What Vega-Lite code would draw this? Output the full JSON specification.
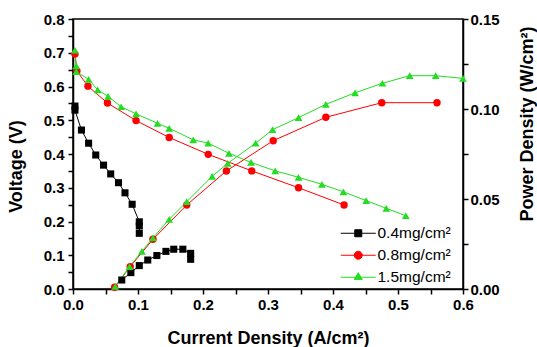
{
 "$schema": "https://vega.github.io/schema/vega-lite/v6.json",
 "width": 390, "height": 270,
 "autosize": {"type": "none"},
 "padding": {"left": 73, "top": 19, "right": 74, "bottom": 58},
 "background": "white",
 "config": {
  "view": {"stroke": "#000", "strokeWidth": 1.5},
  "axis": {"grid": false, "domainColor": "#000", "domainWidth": 1.5, "tickColor": "#000", "tickWidth": 1.5,
   "labelFont": "Liberation Sans", "labelFontWeight": "bold", "labelFontSize": 15, "labelColor": "#000",
   "titleFont": "Liberation Sans", "titleFontWeight": "bold", "titleFontSize": 18, "titleColor": "#000",
   "labelOverlap": false, "labelFlush": false},
  "legend": {"symbolFillColor": "#888888", "symbolStrokeColor": "#888888"}
 },
 "data": {"values": [
  {"series":"0.4mg/cm²","kind":"V","current":0.003,"val":0.542},
  {"series":"0.4mg/cm²","kind":"V","current":0.003,"val":0.530},
  {"series":"0.4mg/cm²","kind":"V","current":0.013,"val":0.471},
  {"series":"0.4mg/cm²","kind":"V","current":0.024,"val":0.432},
  {"series":"0.4mg/cm²","kind":"V","current":0.035,"val":0.397},
  {"series":"0.4mg/cm²","kind":"V","current":0.047,"val":0.367},
  {"series":"0.4mg/cm²","kind":"V","current":0.058,"val":0.341},
  {"series":"0.4mg/cm²","kind":"V","current":0.070,"val":0.315},
  {"series":"0.4mg/cm²","kind":"V","current":0.080,"val":0.285},
  {"series":"0.4mg/cm²","kind":"V","current":0.091,"val":0.251},
  {"series":"0.4mg/cm²","kind":"V","current":0.102,"val":0.199},
  {"series":"0.4mg/cm²","kind":"V","current":0.102,"val":0.187},
  {"series":"0.4mg/cm²","kind":"V","current":0.102,"val":0.165},
  {"series":"0.4mg/cm²","kind":"P","current":0.075,"val":0.0050},
  {"series":"0.4mg/cm²","kind":"P","current":0.089,"val":0.0091},
  {"series":"0.4mg/cm²","kind":"P","current":0.102,"val":0.0130},
  {"series":"0.4mg/cm²","kind":"P","current":0.115,"val":0.0161},
  {"series":"0.4mg/cm²","kind":"P","current":0.129,"val":0.0186},
  {"series":"0.4mg/cm²","kind":"P","current":0.143,"val":0.0209},
  {"series":"0.4mg/cm²","kind":"P","current":0.155,"val":0.0221},
  {"series":"0.4mg/cm²","kind":"P","current":0.169,"val":0.0221},
  {"series":"0.4mg/cm²","kind":"P","current":0.181,"val":0.0198},
  {"series":"0.4mg/cm²","kind":"P","current":0.181,"val":0.0165},
  {"series":"0.8mg/cm²","kind":"V","current":0.003,"val":0.696},
  {"series":"0.8mg/cm²","kind":"V","current":0.006,"val":0.646},
  {"series":"0.8mg/cm²","kind":"V","current":0.023,"val":0.601},
  {"series":"0.8mg/cm²","kind":"V","current":0.053,"val":0.551},
  {"series":"0.8mg/cm²","kind":"V","current":0.097,"val":0.499},
  {"series":"0.8mg/cm²","kind":"V","current":0.148,"val":0.449},
  {"series":"0.8mg/cm²","kind":"V","current":0.208,"val":0.399},
  {"series":"0.8mg/cm²","kind":"V","current":0.275,"val":0.350},
  {"series":"0.8mg/cm²","kind":"V","current":0.347,"val":0.300},
  {"series":"0.8mg/cm²","kind":"V","current":0.417,"val":0.249},
  {"series":"0.8mg/cm²","kind":"P","current":0.064,"val":0.0010},
  {"series":"0.8mg/cm²","kind":"P","current":0.088,"val":0.0124},
  {"series":"0.8mg/cm²","kind":"P","current":0.123,"val":0.0276},
  {"series":"0.8mg/cm²","kind":"P","current":0.175,"val":0.0467},
  {"series":"0.8mg/cm²","kind":"P","current":0.236,"val":0.0656},
  {"series":"0.8mg/cm²","kind":"P","current":0.308,"val":0.0824},
  {"series":"0.8mg/cm²","kind":"P","current":0.389,"val":0.0954},
  {"series":"0.8mg/cm²","kind":"P","current":0.475,"val":0.1035},
  {"series":"0.8mg/cm²","kind":"P","current":0.560,"val":0.1035},
  {"series":"1.5mg/cm²","kind":"V","current":0.003,"val":0.708},
  {"series":"1.5mg/cm²","kind":"V","current":0.005,"val":0.661},
  {"series":"1.5mg/cm²","kind":"V","current":0.005,"val":0.644},
  {"series":"1.5mg/cm²","kind":"V","current":0.024,"val":0.621},
  {"series":"1.5mg/cm²","kind":"V","current":0.038,"val":0.590},
  {"series":"1.5mg/cm²","kind":"V","current":0.054,"val":0.571},
  {"series":"1.5mg/cm²","kind":"V","current":0.074,"val":0.540},
  {"series":"1.5mg/cm²","kind":"V","current":0.097,"val":0.519},
  {"series":"1.5mg/cm²","kind":"V","current":0.130,"val":0.491},
  {"series":"1.5mg/cm²","kind":"V","current":0.148,"val":0.476},
  {"series":"1.5mg/cm²","kind":"V","current":0.185,"val":0.442},
  {"series":"1.5mg/cm²","kind":"V","current":0.208,"val":0.432},
  {"series":"1.5mg/cm²","kind":"V","current":0.240,"val":0.402},
  {"series":"1.5mg/cm²","kind":"V","current":0.274,"val":0.375},
  {"series":"1.5mg/cm²","kind":"V","current":0.311,"val":0.350},
  {"series":"1.5mg/cm²","kind":"V","current":0.347,"val":0.331},
  {"series":"1.5mg/cm²","kind":"V","current":0.383,"val":0.310},
  {"series":"1.5mg/cm²","kind":"V","current":0.416,"val":0.288},
  {"series":"1.5mg/cm²","kind":"V","current":0.451,"val":0.262},
  {"series":"1.5mg/cm²","kind":"V","current":0.482,"val":0.239},
  {"series":"1.5mg/cm²","kind":"V","current":0.512,"val":0.217},
  {"series":"1.5mg/cm²","kind":"P","current":0.065,"val":0.0015},
  {"series":"1.5mg/cm²","kind":"P","current":0.087,"val":0.0124},
  {"series":"1.5mg/cm²","kind":"P","current":0.106,"val":0.0209},
  {"series":"1.5mg/cm²","kind":"P","current":0.123,"val":0.0284},
  {"series":"1.5mg/cm²","kind":"P","current":0.148,"val":0.0387},
  {"series":"1.5mg/cm²","kind":"P","current":0.175,"val":0.0485},
  {"series":"1.5mg/cm²","kind":"P","current":0.214,"val":0.0626},
  {"series":"1.5mg/cm²","kind":"P","current":0.238,"val":0.0698},
  {"series":"1.5mg/cm²","kind":"P","current":0.281,"val":0.0810},
  {"series":"1.5mg/cm²","kind":"P","current":0.307,"val":0.0885},
  {"series":"1.5mg/cm²","kind":"P","current":0.347,"val":0.0952},
  {"series":"1.5mg/cm²","kind":"P","current":0.389,"val":0.1026},
  {"series":"1.5mg/cm²","kind":"P","current":0.434,"val":0.1090},
  {"series":"1.5mg/cm²","kind":"P","current":0.476,"val":0.1143},
  {"series":"1.5mg/cm²","kind":"P","current":0.518,"val":0.1185},
  {"series":"1.5mg/cm²","kind":"P","current":0.558,"val":0.1185},
  {"series":"1.5mg/cm²","kind":"P","current":0.600,"val":0.1170}
 ]},
 "encoding": {
  "x": {"field": "current", "type": "quantitative",
   "scale": {"domain": [0, 0.6], "nice": false},
   "axis": {"title": "Current Density (A/cm²)",
    "values": [0,0.05,0.1,0.15,0.2,0.25,0.3,0.35,0.4,0.45,0.5,0.55,0.6],
    "labelExpr": "round(datum.value*20)%2==0 ? format(datum.value,'.1f') : ''",
    "tickSize": 5, "labelPadding": 3, "titleY": 54, "titleBaseline": "alphabetic",
    "encode": {"ticks": {"y2": {"value": {"expr": "round(datum.value*20)%2==0 ? 5 : 3"}}}}}}
 },
 "layer": [
  {"transform": [{"filter": "datum.kind == 'V'"}],
   "encoding": {
    "color": {"field": "series", "type": "nominal",
     "scale": {"domain": ["0.4mg/cm²","0.8mg/cm²","1.5mg/cm²"], "range": ["#000000","#ff0000","#22dd22"]}, "legend": null},
    "y": {"field": "val", "type": "quantitative",
    "scale": {"domain": [0, 0.8], "nice": false},
    "axis": {"title": "Voltage (V)", "orient": "left",
     "values": [0,0.05,0.1,0.15,0.2,0.25,0.3,0.35,0.4,0.45,0.5,0.55,0.6,0.65,0.7,0.75,0.8],
     "labelExpr": "round(datum.value*20)%2==0 ? format(datum.value,'.1f') : ''",
     "tickSize": 5, "labelPadding": 4,
     "titleAngle": -90, "titleX": -57, "titleY": 147, "titleAlign": "center", "titleBaseline": "middle",
     "encode": {"ticks": {"x2": {"value": {"expr": "round(datum.value*20)%2==0 ? -5 : -3"}}}}}}},
   "layer": [
    {"mark": {"type": "line", "strokeWidth": 1}, "encoding": {"order": {"value": null}}},
    {"mark": {"type": "point", "filled": true, "opacity": 1},
     "encoding": {
      "shape": {"field": "series", "type": "nominal", "scale": {"domain": ["0.4mg/cm²","0.8mg/cm²","1.5mg/cm²"], "range": ["square","circle","triangle-up"]}, "legend": null},
      "size": {"field": "series", "type": "nominal", "scale": {"domain": ["0.4mg/cm²","0.8mg/cm²","1.5mg/cm²"], "range": [50, 60, 64]}, "legend": null}}}
   ]},
  {"transform": [{"filter": "datum.kind == 'P'"}],
   "encoding": {
    "color": {"field": "series", "type": "nominal",
     "scale": {"domain": ["0.4mg/cm²","0.8mg/cm²","1.5mg/cm²"], "range": ["#000000","#ff0000","#22dd22"]}, "legend": null},
    "y": {"field": "val", "type": "quantitative",
    "scale": {"domain": [0, 0.15], "nice": false},
    "axis": {"title": "Power Density (W/cm²)", "orient": "right",
     "values": [0,0.025,0.05,0.075,0.1,0.125,0.15],
     "labelExpr": "round(datum.value*40)%2==0 ? format(datum.value,'.2f') : ''",
     "tickSize": 5, "labelPadding": 2,
     "titleAngle": -90, "titleX": 64, "titleY": 104.5, "titleAlign": "center", "titleBaseline": "middle",
     "encode": {"ticks": {"x2": {"value": {"expr": "round(datum.value*40)%2==0 ? 5 : 3"}}}}}}},
   "layer": [
    {"mark": {"type": "line", "strokeWidth": 1}, "encoding": {"order": {"value": null}}},
    {"mark": {"type": "point", "filled": true, "opacity": 1},
     "encoding": {
      "shape": {"field": "series", "type": "nominal", "scale": {"domain": ["0.4mg/cm²","0.8mg/cm²","1.5mg/cm²"], "range": ["square","circle","triangle-up"]}, "legend": null},
      "size": {"field": "series", "type": "nominal", "scale": {"domain": ["0.4mg/cm²","0.8mg/cm²","1.5mg/cm²"], "range": [50, 60, 64]}, "legend": null}}}
   ]},
  {"transform": [{"filter": "datum.kind == 'none'"}],
   "mark": {"type": "point", "opacity": 1, "strokeWidth": 1},
   "encoding": {
    "fill": {"field": "series", "type": "nominal",
     "scale": {"domain": ["0.4mg/cm²","0.8mg/cm²","1.5mg/cm²"], "range": ["#000000","#ff0000","#22dd22"]},
     "legend": {"orient": "none", "legendX": 277.5, "legendY": 206.5, "title": null, "padding": 0,
      "symbolSize": 64, "symbolStrokeWidth": 1, "symbolFillColor": "#888888", "symbolStrokeColor": "#888888", "labelFont": "Liberation Sans", "labelFontSize": 15.5,
      "labelColor": "#000", "labelOffset": 11.5, "rowPadding": 5}},
    "stroke": {"field": "series", "type": "nominal",
     "scale": {"domain": ["0.4mg/cm²","0.8mg/cm²","1.5mg/cm²"], "range": ["#000000","#ff0000","#22dd22"]},
     "legend": {"orient": "none", "legendX": 277.5, "legendY": 206.5, "title": null, "padding": 0,
      "symbolSize": 64, "symbolStrokeWidth": 1, "symbolFillColor": "#888888", "symbolStrokeColor": "#888888", "labelFont": "Liberation Sans", "labelFontSize": 15.5,
      "labelColor": "#000", "labelOffset": 11.5, "rowPadding": 5}},
    "shape": {"field": "series", "type": "nominal",
     "scale": {"domain": ["0.4mg/cm²","0.8mg/cm²","1.5mg/cm²"],
      "range": ["M-4.375,0H4.375M-0.875,-0.875H0.875V0.875H-0.875Z", "M-4.375,0H4.375M-1,0A1,1,0,1,0,1,0A1,1,0,1,0,-1,0Z", "M-4.375,0H4.375M0,-1.15L1,0.58H-1Z"]},
     "legend": {"orient": "none", "legendX": 277.5, "legendY": 206.5, "title": null, "padding": 0,
      "symbolSize": 64, "symbolStrokeWidth": 1, "symbolFillColor": "#888888", "symbolStrokeColor": "#888888", "labelFont": "Liberation Sans", "labelFontSize": 15.5,
      "labelColor": "#000", "labelOffset": 11.5, "rowPadding": 5}}
   }}
 ],
 "resolve": {"scale": {"y": "independent", "shape": "independent", "size": "independent", "fill": "independent", "stroke": "independent"}}
}
